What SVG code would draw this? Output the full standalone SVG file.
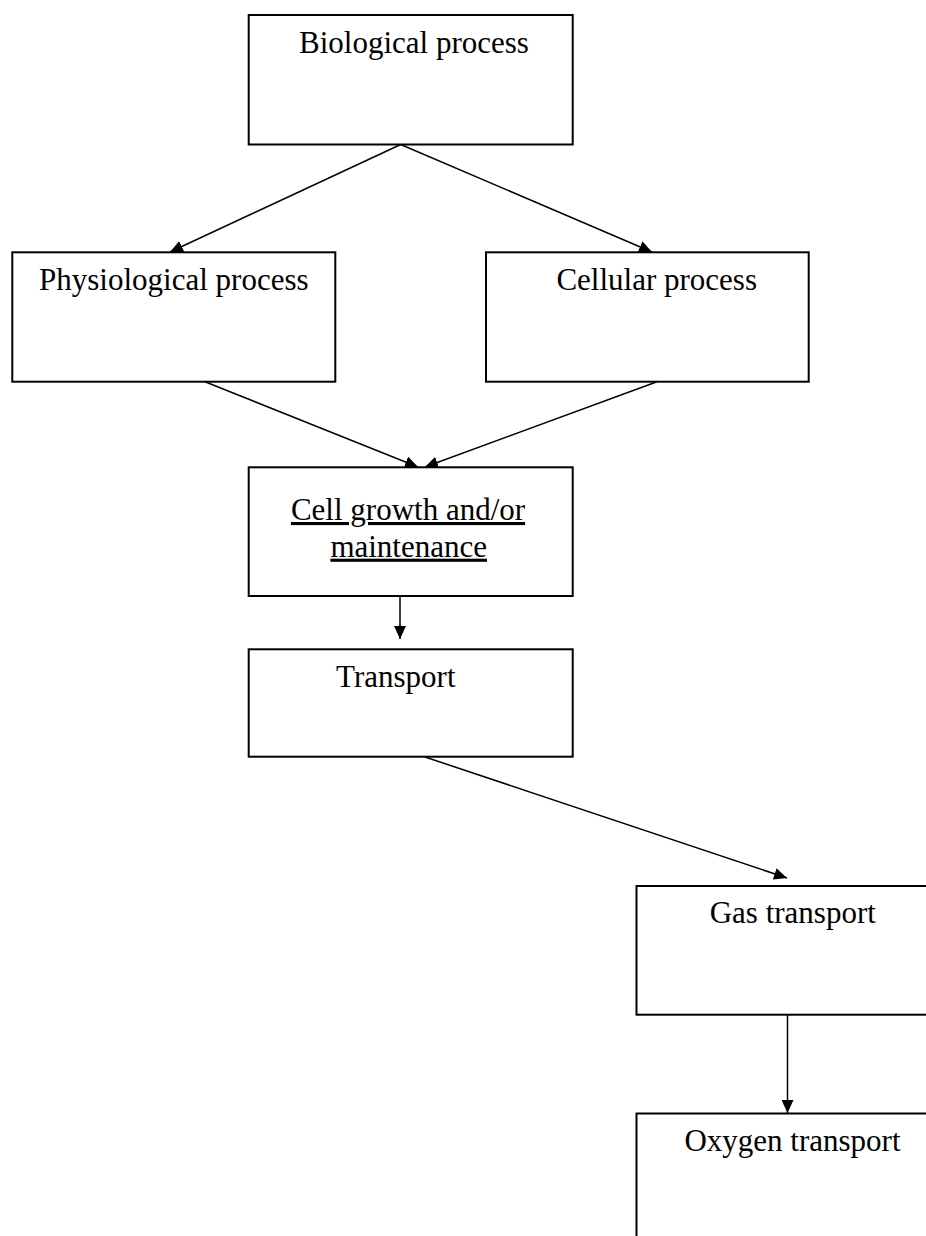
<svg xmlns="http://www.w3.org/2000/svg" width="926" height="1236" viewBox="0 0 926 1236">
<style>
.box{fill:#fff;stroke:#000;stroke-width:2}
.lbl{font-family:"Liberation Serif","Times New Roman",serif;font-size:31px;fill:#000;text-anchor:middle}
.u{text-decoration:underline}
.con{stroke:#000;stroke-width:1.5;fill:none;marker-end:url(#ah)}
</style>
<defs>
<marker id="ah" markerUnits="userSpaceOnUse" markerWidth="14" markerHeight="12" refX="13" refY="6" orient="auto" viewBox="0 0 14 12">
<path d="M0,0 L13,6 L0,12 z" fill="#000"/>
</marker>
</defs>
<rect width="926" height="1236" fill="#fff"/>
<g id="connectors">
<line class="con" x1="400.7" y1="144.5" x2="170" y2="252"/>
<line class="con" x1="400.7" y1="144.5" x2="652" y2="252"/>
<line class="con" x1="205" y1="381.7" x2="418" y2="467"/>
<line class="con" x1="657" y1="381.7" x2="425" y2="467"/>
<line class="con" x1="400" y1="596" x2="400" y2="639"/>
<line class="con" x1="425" y1="757" x2="787" y2="878"/>
<line class="con" x1="787.5" y1="1015" x2="787.5" y2="1113"/>
</g>
<g id="biological">
<rect class="box" x="248.7" y="15" width="324" height="129.5"/>
<text class="lbl" x="414" y="52.7">Biological process</text>
</g>
<g id="physiological">
<rect class="box" x="12.3" y="252.3" width="323" height="129.4"/>
<text class="lbl" x="173.8" y="290">Physiological process</text>
</g>
<g id="cellular">
<rect class="box" x="486" y="252.3" width="322.7" height="129.4"/>
<text class="lbl" x="656.7" y="290">Cellular process</text>
</g>
<g id="cellgrowth">
<rect class="box" x="248.7" y="467.3" width="324" height="128.7"/>
<text class="lbl u" x="408" y="520">Cell growth and/or</text>
<text class="lbl u" x="408.7" y="556.7">maintenance</text>
</g>
<g id="transport">
<rect class="box" x="248.7" y="649.3" width="324" height="107.4"/>
<text class="lbl" x="395.8" y="686.7">Transport</text>
</g>
<g id="gastransport">
<rect class="box" x="636.5" y="886" width="324" height="128.7"/>
<text class="lbl" x="792.8" y="923.3">Gas transport</text>
</g>
<g id="oxygentransport">
<rect class="box" x="636.5" y="1113.5" width="324" height="140"/>
<text class="lbl" x="792.5" y="1150.7">Oxygen transport</text>
</g>
</svg>
